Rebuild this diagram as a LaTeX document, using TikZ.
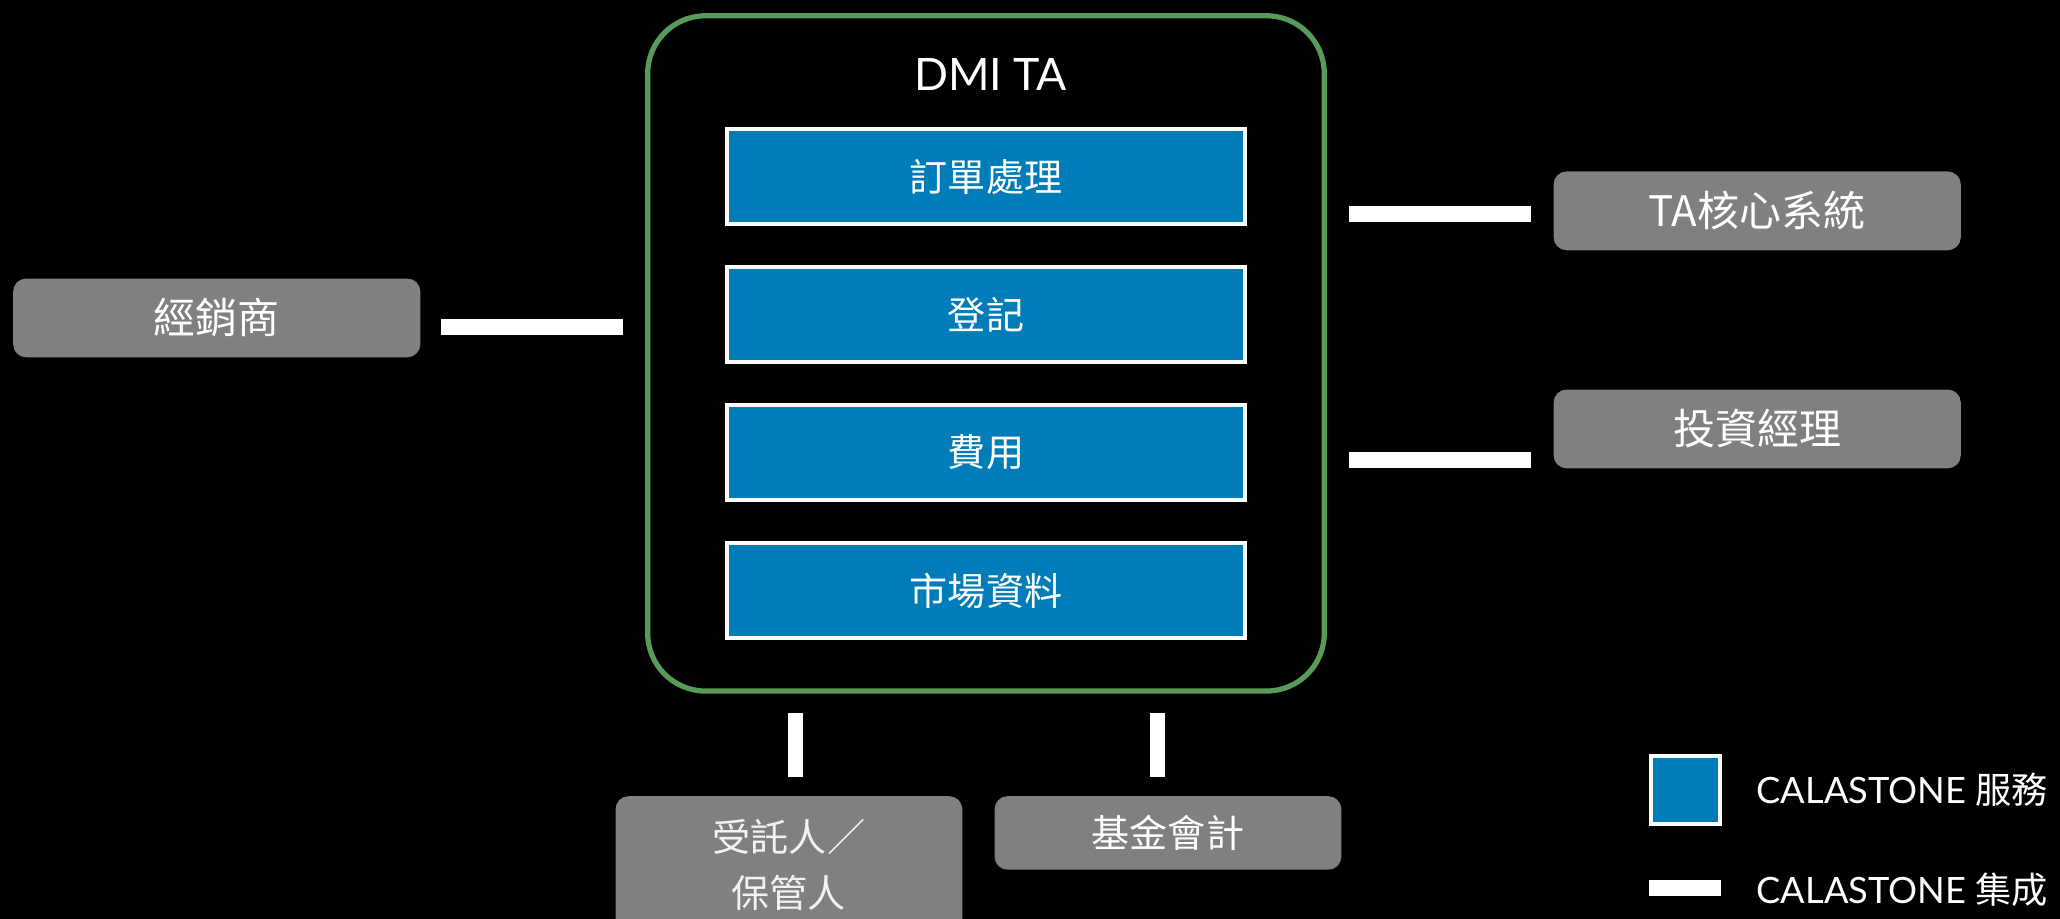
\documentclass[tikz,border=0pt]{standalone}
\usepackage{fontspec}
\setmainfont{Lato}
\newfontfamily\cjk{Noto Sans CJK TC}
\usepackage{tikz}
\usetikzlibrary{positioning}
\definecolor{calablue}{HTML}{007DB8}
\definecolor{partgray}{HTML}{808080}
\definecolor{tagreen}{HTML}{589A58}
\tikzstyle{platform} = [rectangle, rounded corners=22pt, draw=tagreen, line width=2pt, minimum width=257.5pt, minimum height=257pt]
\tikzstyle{service} = [rectangle, draw=white, line width=1.5pt, fill=calablue, minimum width=197pt, minimum height=36pt, text=white, font=\cjk\fontsize{14.5}{17}\selectfont]
\tikzstyle{party} = [rectangle, rounded corners=5pt, fill=partgray, minimum width=155pt, minimum height=30pt, text=white, font=\cjk\fontsize{16}{19}\selectfont]
\tikzstyle{legend} = [anchor=west, text=white, font=\fontsize{13.8}{16}\selectfont]
\tikzstyle{link} = [white, line width=6pt]

\begin{document}
\begin{tikzpicture}[x=0.5pt, y=-0.5pt]
    \fill[black] (0,0) rectangle (1568,699.5);
    \useasboundingbox (0,0) rectangle (1568,699.5);
    % DMI TA platform
    \node (dmi) [platform] at (750.5,269) {};
    \node (dmititle) at (754,57) [text=white, font=\fontsize{17}{20}\selectfont] {DMI TA};
    \node (order) [service] at (750.5,134.5) {訂單處理};
    \node (register) [service, below=15pt of order] {登記};
    \node (fees) [service, below=15pt of register] {費用};
    \node (market) [service, below=15pt of fees] {市場資料};
    % connected parties
    \node (dist) [party] at (165,242) {經銷商};
    \node (core) [party] at (1337.5,160.5) {TA核心系統};
    \node (manager) [party] at (1337.5,326.5) {投資經理};
    \node (trustee) [party, minimum width=132pt, minimum height=52.5pt, align=center,
      text=white!90!gray, font=\cjk\fontsize{14.5}{21.5}\selectfont] at (600.5,658.5)
      {受託人／\\保管人};
    \node (fundacc) [party, minimum width=132pt, minimum height=28pt,
      font=\cjk\fontsize{14.5}{17}\selectfont] at (889,634) {基金會計};
    % integrations
    \draw [link, shorten <=7.5pt, shorten >=8.5pt] ([yshift=-3.5pt]dist.east) -- ([yshift=-3.5pt]dist.east -| dmi.west);
    \draw [link, shorten <=8.5pt, shorten >=8.5pt] ([yshift=-1.25pt]core.west) -- ([yshift=-1.25pt]core.west -| dmi.east);
    \draw [link, shorten <=8.5pt, shorten >=8.5pt] ([yshift=-11.75pt]manager.west) -- ([yshift=-11.75pt]manager.west -| dmi.east);
    \draw [link, shorten <=7.5pt, shorten >=7pt] ([xshift=2.5pt]trustee.north |- dmi.south) -- ([xshift=2.5pt]trustee.north);
    \draw [link, shorten <=7.5pt, shorten >=7pt] ([xshift=-4pt]fundacc.north |- dmi.south) -- ([xshift=-4pt]fundacc.north);
    % legend
    \node (keyservice) [service, minimum width=26pt, minimum height=26pt] at (1283,601.5) {};
    \node (keylink) [rectangle, fill=white, inner sep=0pt, minimum width=27.5pt, minimum height=6pt] at (1282.5,676) {};
    \node (keyservicetext) [legend] at (1330,601) {CALASTONE {\cjk 服務}};
    \node (keylinktext) [legend] at (1330,677) {CALASTONE {\cjk 集成}};
\end{tikzpicture}
\end{document}
